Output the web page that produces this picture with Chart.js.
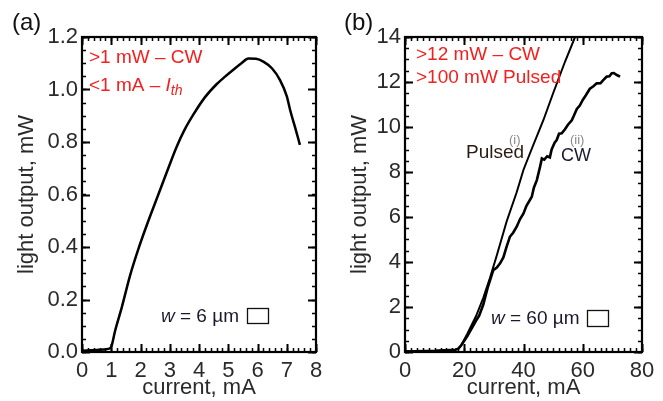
<!DOCTYPE html>
<html>
<head>
<meta charset="utf-8">
<script src="https://cdn.jsdelivr.net/npm/chart.js@4.4.1/dist/chart.umd.min.js"></script>
<style>
    body { margin: 0; background: #fff; }
    #wrap { position: relative; width: 663px; height: 401px; }
    .panel { position: absolute; top: 0; height: 401px; }
</style>
</head>
<body>
<div id="wrap">
    <div class="panel" style="left:0;width:330px"><canvas id="chartA"></canvas></div>
    <div class="panel" style="left:330px;width:333px"><canvas id="chartB"></canvas></div>
</div>
<script>
// (a) w = 6 um, CW light output vs current
const aCurrent = [0, 0.5, 0.9, 1.0, 1.13, 1.36, 1.64, 1.92, 2.27, 2.61, 2.95, 3.23, 3.5, 3.81, 4.2, 4.6, 4.9, 5.17, 5.45, 5.69, 5.95, 6.2, 6.5, 6.77, 7.0, 7.12, 7.3, 7.45];
const aPower   = [0.005, 0.008, 0.012, 0.02, 0.08, 0.17, 0.29, 0.39, 0.5, 0.6, 0.7, 0.78, 0.845, 0.905, 0.97, 1.02, 1.05, 1.075, 1.1, 1.118, 1.117, 1.106, 1.08, 1.036, 0.975, 0.92, 0.85, 0.789];
const aXTicks = [0, 1, 2, 3, 4, 5, 6, 7, 8];
const aYTicks = [0, 0.2, 0.4, 0.6, 0.8, 1.0, 1.2];

// (b) w = 60 um, pulsed (i) and CW (ii)
const bPulsedCurrent = [0, 10, 17, 18, 19, 21, 24, 26.4, 28.7, 31, 34.3, 37.7, 40, 43, 46.7, 50, 54, 57.4];
const bPulsedPower   = [0.02, 0.05, 0.1, 0.15, 0.3, 0.8, 1.6, 2.4, 3.3, 4.3, 5.8, 7.1, 8.1, 9.1, 10.3, 11.5, 12.9, 14];
const bCwCurrent = [0, 10, 17, 18, 19, 21, 24, 25, 26.4, 28, 29.8, 31, 32.1, 33.2, 34.3, 35.4, 36.5, 37.7, 38.8, 40, 41, 42.8, 43.5, 44.5, 45.6, 46.2, 47, 48, 48.9, 49.5, 50.5, 51.2, 52, 52.9, 54, 55, 56.3, 57, 58, 59, 60, 61, 62.4, 63.5, 64.7, 66, 67, 68.1, 69, 69.8, 70.5, 71.5, 72.6];
const bCwPower   = [0.02, 0.05, 0.1, 0.15, 0.3, 0.7, 1.4, 1.6, 2.1, 2.9, 3.64, 3.75, 3.94, 4.2, 4.68, 5.12, 5.3, 5.57, 5.9, 6.16, 6.5, 6.9, 7.3, 7.64, 8.24, 8.6, 8.55, 8.7, 8.65, 9.0, 9.3, 9.42, 9.7, 9.72, 9.9, 10.1, 10.3, 10.5, 10.8, 10.95, 11.2, 11.4, 11.7, 11.8, 11.94, 11.95, 12.09, 12.24, 12.25, 12.39, 12.4, 12.31, 12.24];
const bXTicks = [0, 20, 40, 60, 80];
const bYTicks = [0, 2, 4, 6, 8, 10, 12, 14];

const FONT = "'Liberation Sans', Arial, sans-serif";
const RED = '#f2201e';

function pts(xs, ys) {
    return xs.map((x, i) => ({ x: x, y: ys[i] }));
}

// frame with inward major/minor ticks on all four sides
function frameTicks(minorX, minorY) {
    return {
        id: 'frameTicks',
        afterDraw(chart) {
            const ctx = chart.ctx;
            const a = chart.chartArea;
            const xs = chart.scales.x, ys = chart.scales.y;
            ctx.save();
            ctx.strokeStyle = '#000';
            ctx.lineWidth = 1.5;
            ctx.beginPath();
            const nx = Math.round((xs.max - xs.min) / minorX);
            for (let i = 0; i <= nx; i++) {
                const px = Math.round(xs.getPixelForValue(xs.min + i * minorX)) + 0.5;
                ctx.moveTo(px, a.bottom); ctx.lineTo(px, a.bottom - 4);
                ctx.moveTo(px, a.top); ctx.lineTo(px, a.top + 4);
            }
            const ny = Math.round((ys.max - ys.min) / minorY);
            for (let i = 0; i <= ny; i++) {
                const py = Math.round(ys.getPixelForValue(ys.min + i * minorY)) + 0.5;
                ctx.moveTo(a.left, py); ctx.lineTo(a.left + 4, py);
                ctx.moveTo(a.right, py); ctx.lineTo(a.right - 4, py);
            }
            ctx.stroke();
            ctx.lineWidth = 2;
            ctx.beginPath();
            xs.ticks.forEach(t => {
                const px = Math.round(xs.getPixelForValue(t.value)) + 0.5;
                ctx.moveTo(px, a.bottom); ctx.lineTo(px, a.bottom - 8);
                ctx.moveTo(px, a.top); ctx.lineTo(px, a.top + 8);
            });
            ys.ticks.forEach(t => {
                const py = Math.round(ys.getPixelForValue(t.value)) + 0.5;
                ctx.moveTo(a.left, py); ctx.lineTo(a.left + 8, py);
                ctx.moveTo(a.right, py); ctx.lineTo(a.right - 8, py);
            });
            ctx.stroke();
            ctx.lineWidth = 2.2;
            ctx.strokeRect(a.left, a.top, a.right - a.left, a.bottom - a.top);
            ctx.restore();
        }
    };
}

// draw a row of text pieces with different fonts
function runs(ctx, x, y, parts) {
    parts.forEach(p => {
        ctx.font = p.font;
        ctx.fillStyle = p.color;
        ctx.fillText(p.t, x, y + (p.dy || 0));
        x += ctx.measureText(p.t).width;
    });
    return x;
}

function makeScales(xTicks, yTicks, yWidth, yDigits, yTitlePad) {
    return {
        x: {
            type: 'linear',
            min: xTicks[0], max: xTicks[xTicks.length - 1],
            afterBuildTicks: s => { s.ticks = xTicks.map(v => ({ value: v })); },
            afterFit: s => { s.height = 49; },
            grid: { display: false, drawTicks: false },
            border: { display: false },
            ticks: { padding: 6, color: '#2a2a2a', font: { family: FONT, size: 22 } },
            title: { display: true, text: 'current, mA', color: '#2a2a2a', padding: { top: -2, bottom: 0 }, font: { family: FONT, size: 22 } }
        },
        y: {
            type: 'linear',
            min: yTicks[0], max: yTicks[yTicks.length - 1],
            afterBuildTicks: s => { s.ticks = yTicks.map(v => ({ value: v })); },
            afterFit: s => { s.width = yWidth; },
            grid: { display: false, drawTicks: false },
            border: { display: false },
            ticks: { padding: 4, color: '#2a2a2a', font: { family: FONT, size: 22 }, callback: v => v.toFixed(yDigits) },
            title: { display: true, text: 'light output, mW', color: '#2a2a2a', padding: { top: yTitlePad, bottom: 0 }, font: { family: FONT, size: 22 } }
        }
    };
}

const lineStyle = { borderColor: '#000', pointRadius: 0, tension: 0, fill: false };

new Chart(document.getElementById('chartA'), {
    type: 'line',
    data: {
        datasets: [{ ...lineStyle, data: pts(aCurrent, aPower), borderWidth: 2.5, cubicInterpolationMode: 'monotone' }]
    },
    options: {
        responsive: true,
        maintainAspectRatio: false,
        animation: false,
        layout: { padding: { top: 37, right: 14, left: 0, bottom: 0 } },
        plugins: { legend: { display: false }, tooltip: { enabled: false } },
        scales: makeScales(aXTicks, aYTicks, 82, 1, 14)
    },
    plugins: [frameTicks(0.2, 0.05), {
        id: 'notesA',
        afterDraw(chart) {
            const ctx = chart.ctx;
            ctx.save();
            ctx.textBaseline = 'alphabetic';
            ctx.textAlign = 'left';
            runs(ctx, 12, 30, [{ t: '(a)', font: `24px ${FONT}`, color: '#111' }]);
            runs(ctx, 89, 63, [{ t: '>1 mW \u2013 CW', font: `19px ${FONT}`, color: RED }]);
            runs(ctx, 89, 91, [
                { t: '<1 mA \u2013 ', font: `19px ${FONT}`, color: RED },
                { t: 'I', font: `italic 19px ${FONT}`, color: RED },
                { t: 'th', font: `italic 14px ${FONT}`, color: RED, dy: 4 }
            ]);
            runs(ctx, 161, 322, [
                { t: 'w', font: `italic 19px ${FONT}`, color: '#1a1a2e' },
                { t: ' = 6 \u00b5m', font: `19px ${FONT}`, color: '#1a1a2e' }
            ]);
            ctx.strokeStyle = '#111';
            ctx.lineWidth = 1.3;
            ctx.strokeRect(247.5, 308.5, 21, 15);
            ctx.restore();
        }
    }]
});

new Chart(document.getElementById('chartB'), {
    type: 'line',
    data: {
        datasets: [
            { ...lineStyle, data: pts(bPulsedCurrent, bPulsedPower), borderWidth: 2 },
            { ...lineStyle, data: pts(bCwCurrent, bCwPower), borderWidth: 2.6 }
        ]
    },
    options: {
        responsive: true,
        maintainAspectRatio: false,
        animation: false,
        layout: { padding: { top: 37, right: 21, left: 0, bottom: 0 } },
        plugins: { legend: { display: false }, tooltip: { enabled: false } },
        scales: makeScales(bXTicks, bYTicks, 75, 0, 17)
    },
    plugins: [frameTicks(2, 0.5), {
        id: 'notesB',
        afterDraw(chart) {
            const ctx = chart.ctx;
            ctx.save();
            ctx.textBaseline = 'alphabetic';
            ctx.textAlign = 'left';
            runs(ctx, 14, 30, [{ t: '(b)', font: `24px ${FONT}`, color: '#111' }]);
            runs(ctx, 86, 60, [{ t: '>12 mW \u2013 CW', font: `19px ${FONT}`, color: RED }]);
            runs(ctx, 86, 83, [{ t: '>100 mW Pulsed', font: `19px ${FONT}`, color: RED }]);
            runs(ctx, 136, 158, [{ t: 'Pulsed', font: `19px ${FONT}`, color: '#2a1a14' }]);
            runs(ctx, 179, 144, [{ t: '(i)', font: `13px ${FONT}`, color: '#8a8a8a' }]);
            runs(ctx, 231, 161, [{ t: 'CW', font: `18px ${FONT}`, color: '#1a1a2e' }]);
            runs(ctx, 240, 144, [{ t: '(ii)', font: `13px ${FONT}`, color: '#8a8a8a' }]);
            runs(ctx, 161, 324, [
                { t: 'w', font: `italic 19px ${FONT}`, color: '#1a1a2e' },
                { t: ' = 60 \u00b5m', font: `19px ${FONT}`, color: '#1a1a2e' }
            ]);
            ctx.strokeStyle = '#111';
            ctx.lineWidth = 1.3;
            ctx.strokeRect(257.5, 310.5, 21, 16);
            ctx.restore();
        }
    }]
});
</script>
</body>
</html>
